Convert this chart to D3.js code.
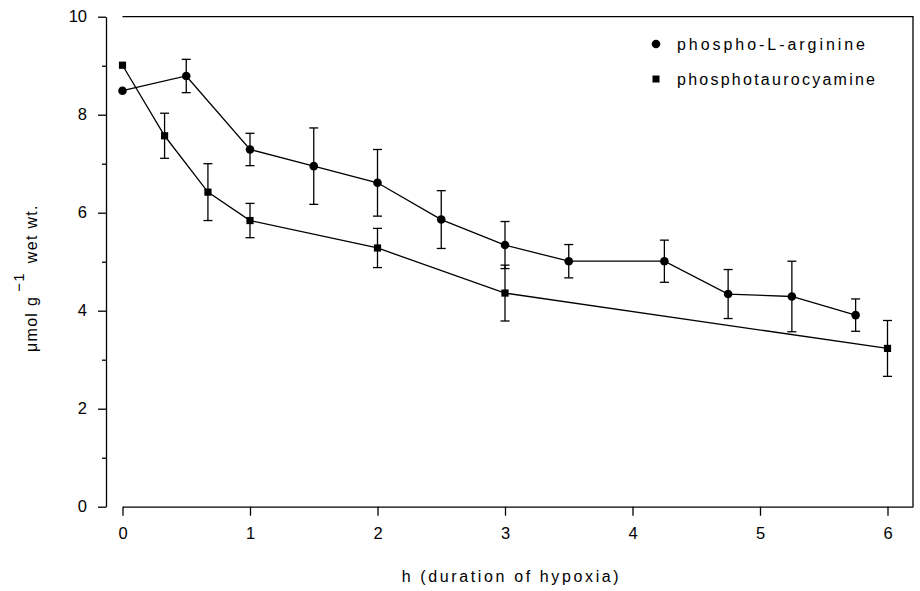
<!DOCTYPE html>
<html><head><meta charset="utf-8">
<script src="https://cdn.jsdelivr.net/npm/d3@7"></script>
<style>
html,body{margin:0;padding:0;background:#fff;}
svg text{font-family:"Liberation Sans","DejaVu Sans",sans-serif;fill:#000;}
</style></head>
<body><svg id="c" width="920" height="591"></svg>
<script>
// ---- data ----
const argHours = [0, 0.5, 1, 1.5, 2, 2.5, 3, 3.5, 4.25, 4.75, 5.25, 5.75];
const argValues = [8.49, 8.79, 7.29, 6.95, 6.61, 5.86, 5.34, 5.01, 5.01, 4.34, 4.29, 3.91];
const argErrors = [0, 0.34, 0.33, 0.78, 0.68, 0.59, 0.48, 0.34, 0.43, 0.50, 0.72, 0.33];
const tauHours = [0, 0.33, 0.67, 1, 2, 3, 6];
const tauValues = [9.01, 7.57, 6.42, 5.84, 5.28, 4.36, 3.23];
const tauErrors = [0, 0.46, 0.58, 0.35, 0.40, 0.57, 0.57];
const xTicks = [0, 1, 2, 3, 4, 5, 6];
const yTicks = [0, 2, 4, 6, 8, 10];
const yMinorTicks = [1, 3, 5, 7, 9];
const seriesNames = ["phospho-L-arginine", "phosphotaurocyamine"];

const svg = d3.select("#c");
const x = d3.scaleLinear().domain([0, 6.2]).range([122.5, 913]);
const y = d3.scaleLinear().domain([0, 10]).range([506.7, 16.7]);

// frame (top, right)
svg.append("path")
  .attr("d", `M${x(0)},${y(10)}H${x(6.2)}V${y(0)}`)
  .attr("fill", "none").attr("stroke", "#000").attr("stroke-width", 1.3);

// y axis
const ya = svg.append("g").attr("transform", "translate(106,0)")
  .call(d3.axisLeft(y).tickValues(yTicks).tickSize(8).tickSizeOuter(0).tickPadding(11).tickFormat(d3.format("d")));
const ym = svg.append("g").attr("transform", "translate(106,0)")
  .call(d3.axisLeft(y).tickValues(yMinorTicks).tickSize(4).tickFormat(""));
ym.select(".domain").remove();

// x axis
const xa = svg.append("g").attr("transform", `translate(0,${y(0)})`)
  .call(d3.axisBottom(x).tickValues(xTicks).tickSize(9).tickSizeOuter(0).tickPadding(12).tickFormat(d3.format("d")));

[ya, ym, xa].forEach(g => {
  g.selectAll("path,line").attr("stroke", "#000").attr("stroke-width", 1.3);
  g.selectAll("text").attr("font-size", 16.5).attr("font-family", "Liberation Sans, sans-serif").attr("fill", "#000");
});

// series
function drawSeries(hours, vals, errs, shape) {
  const g = svg.append("g");
  const pts = hours.map((h, i) => ({h, v: vals[i], e: errs[i]}));
  g.append("path").datum(pts)
    .attr("d", d3.line().x(d => x(d.h)).y(d => y(d.v)))
    .attr("fill", "none").attr("stroke", "#000").attr("stroke-width", 1.3);
  const eb = g.selectAll(".eb").data(pts.filter(d => d.e > 0)).enter().append("g");
  eb.append("line").attr("x1", d => x(d.h)).attr("x2", d => x(d.h))
    .attr("y1", d => y(d.v + d.e)).attr("y2", d => y(d.v - d.e));
  eb.append("line").attr("x1", d => x(d.h) - 4.5).attr("x2", d => x(d.h) + 4.5)
    .attr("y1", d => y(d.v + d.e)).attr("y2", d => y(d.v + d.e));
  eb.append("line").attr("x1", d => x(d.h) - 4.5).attr("x2", d => x(d.h) + 4.5)
    .attr("y1", d => y(d.v - d.e)).attr("y2", d => y(d.v - d.e));
  eb.selectAll("line").attr("stroke", "#000").attr("stroke-width", 1.3);
  if (shape === "circle") {
    g.selectAll("circle").data(pts).enter().append("circle")
      .attr("cx", d => x(d.h)).attr("cy", d => y(d.v)).attr("r", 4.3).attr("fill", "#000");
  } else {
    g.selectAll("rect.m").data(pts).enter().append("rect")
      .attr("x", d => x(d.h) - 3.6).attr("y", d => y(d.v) - 3.6)
      .attr("width", 7.2).attr("height", 7.2).attr("fill", "#000");
  }
}
drawSeries(argHours, argValues, argErrors, "circle");
drawSeries(tauHours, tauValues, tauErrors, "square");

// legend
const lg = svg.append("g");
lg.append("circle").attr("cx", 656).attr("cy", 44).attr("r", 4.3).attr("fill", "#000");
lg.append("rect").attr("x", 652.5).attr("y", 75.5).attr("width", 7).attr("height", 7).attr("fill", "#000");
lg.append("text").attr("x", 677).attr("y", 50).attr("font-size", 16)
  .attr("textLength", 188).attr("lengthAdjust", "spacing").text(seriesNames[0]);
lg.append("text").attr("x", 677).attr("y", 85).attr("font-size", 16)
  .attr("textLength", 198).attr("lengthAdjust", "spacing").text(seriesNames[1]);

// x title
svg.append("text").attr("x", 401.7).attr("y", 582).attr("font-size", 16)
  .attr("textLength", 217).attr("lengthAdjust", "spacing").text("h (duration of hypoxia)");

// y title
const yt = svg.append("text").attr("transform", "translate(37,352) rotate(-90)")
  .attr("font-size", 16).attr("letter-spacing", 1.3);
yt.append("tspan").text("\u03bcmol g");
yt.append("tspan").attr("dx", 4).attr("dy", -13).attr("font-size", 15).text("\u22121");
yt.append("tspan").attr("dx", 9).attr("dy", 13).text("wet wt.");
</script></body></html>
